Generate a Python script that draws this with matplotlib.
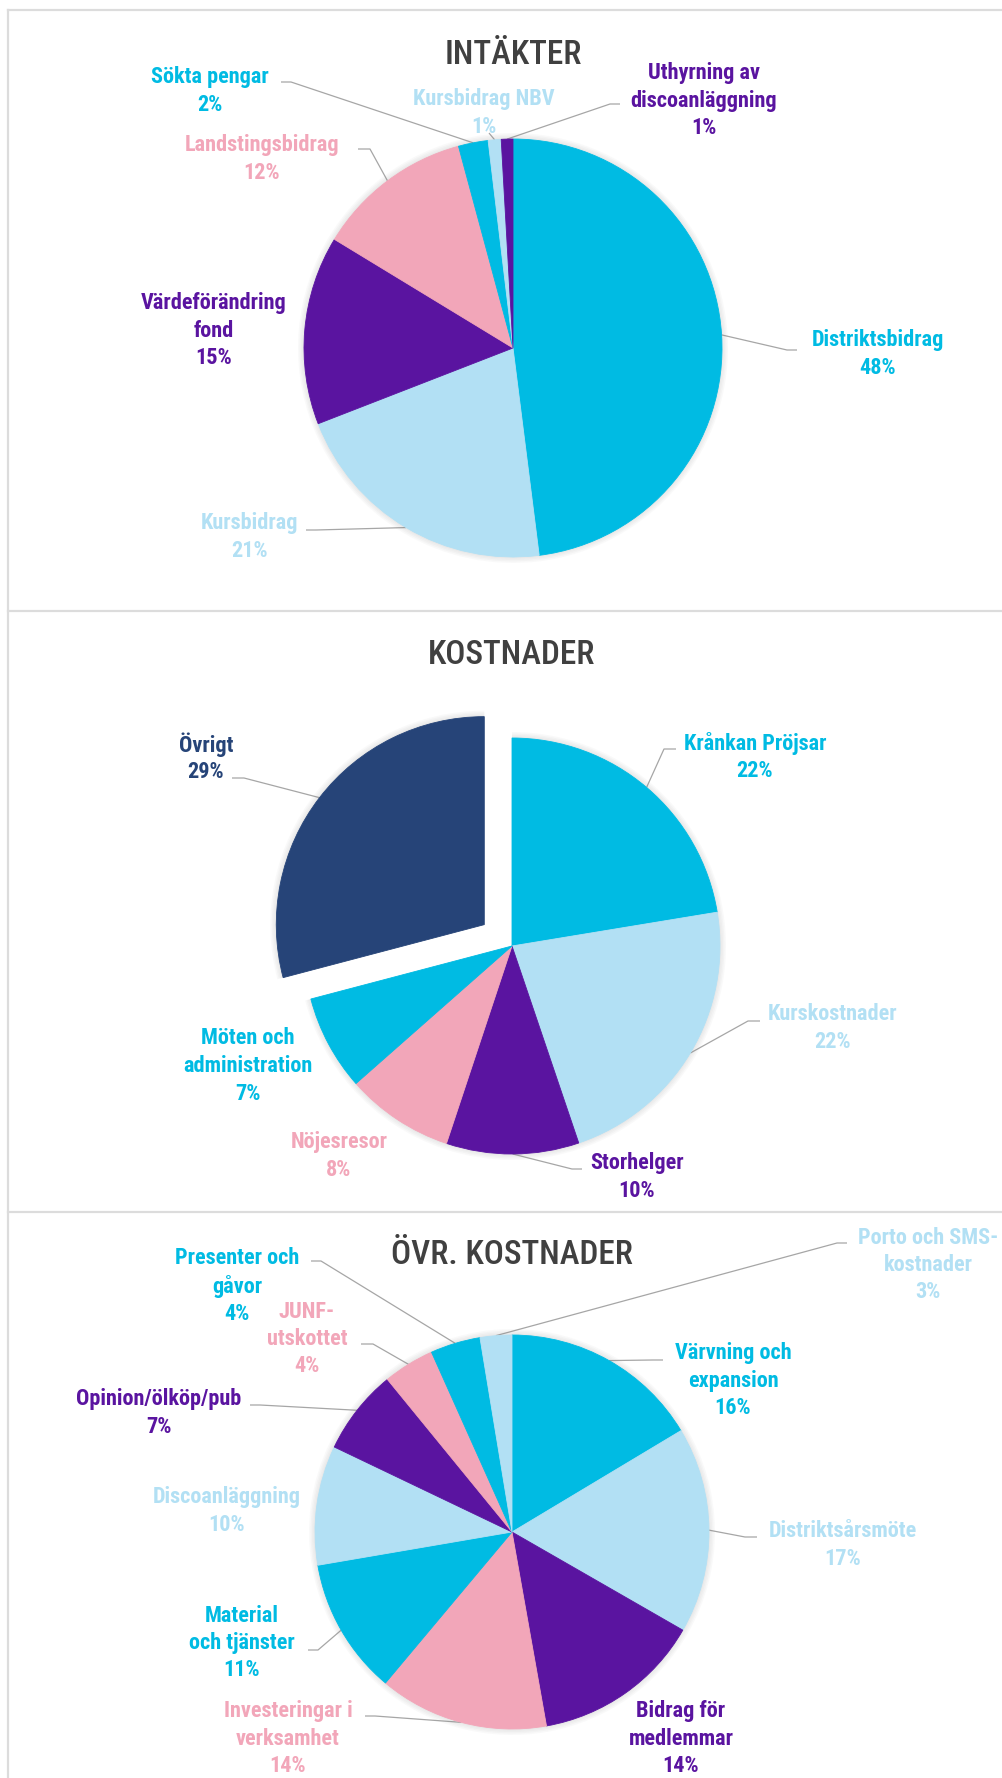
import os
import glob
import numpy as np
import matplotlib
matplotlib.use("Agg")
import matplotlib.pyplot as plt
import matplotlib.patches as mpatches
from matplotlib import font_manager as fm
from matplotlib.font_manager import FontProperties
from matplotlib.lines import Line2D

# ---------------- data ----------------
inc_title = "INTÄKTER"
inc_labels = ["Distriktsbidrag", "Kursbidrag", "Värdeförändring\nfond", "Landstingsbidrag",
              "Sökta pengar", "Kursbidrag NBV", "Uthyrning av\ndiscoanläggning"]
inc_values = [48.0, 21.1, 14.6, 12.1, 2.3, 1.0, 0.9]

cost_title = "KOSTNADER"
cost_labels = ["Krånkan Pröjsar", "Kurskostnader", "Storhelger", "Nöjesresor",
               "Möten och\nadministration", "Övrigt"]
cost_values = [22.4, 22.4, 10.3, 8.4, 7.4, 29.1]

other_title = "ÖVR. KOSTNADER"
other_labels = ["Värvning och\nexpansion", "Distriktsårsmöte", "Bidrag för\nmedlemmar",
                "Investeringar i\nverksamhet", "Material\noch tjänster", "Discoanläggning",
                "Opinion/ölköp/pub", "JUNF-\nutskottet", "Presenter och\ngåvor",
                "Porto och SMS-\nkostnader"]
other_values = [16.4, 16.9, 13.9, 13.9, 11.2, 9.8, 7.0, 4.2, 4.1, 2.6]

# ---------------- styles ----------------
CYAN = "#00BBE3"
LIGHT = "#B2E0F4"
PURPLE = "#5A14A0"
PINK = "#F2A6B9"
NAVY = "#264478"
TITLE_C = "#404040"
LEADER_C = "#A6A6A6"
BORDER_C = "#DCDCDC"

inc_colors = [CYAN, LIGHT, PURPLE, PINK, CYAN, LIGHT, PURPLE]
cost_colors = [CYAN, LIGHT, PURPLE, PINK, CYAN, NAVY]
other_colors = [CYAN, LIGHT, PURPLE, PINK, CYAN, LIGHT, PURPLE, PINK, CYAN, LIGHT]

W, H = 1003, 1778

# ---------------- fonts ----------------
def all_font_files():
    files = set(f.fname for f in fm.fontManager.ttflist)
    for d in ["/usr/share/fonts", "/usr/local/share/fonts", os.path.expanduser("~/.fonts")]:
        for ext in ("ttf", "otf", "TTF", "OTF"):
            files.update(glob.glob(os.path.join(d, "**", "*." + ext), recursive=True))
    return files

FILES = all_font_files()
NORM = {}
for f in FILES:
    k = os.path.basename(f).lower().replace("-", "").replace("_", "").replace(" ", "")
    if "italic" in k or "oblique" in k:
        continue
    NORM[k] = f

def pick(prefs):
    for p in prefs:
        for k in sorted(NORM):
            if k.startswith(p):
                return NORM[k]
    return None

bold_file = pick(["robotocondensedsemibold", "robotocondensedbold", "notosanscondensedsemibold",
                  "notosanscondensedbold", "opensanscondensedbold", "opensanscondsemibold",
                  "opensanscondbold", "liberationsansnarrowbold.", "dejavusanscondensedbold."])
title_file = pick(["robotocondensedmedium", "robotocondensedregular", "notosanscondensedmedium",
                   "notosanscondensed.", "notosanscondensedregular", "opensanscondensedregular",
                   "opensanscondensedmedium", "liberationsansnarrowregular", "liberationsansnarrow.",
                   "dejavusanscondensed."])

if bold_file:
    label_fp = FontProperties(fname=bold_file, size=16)
else:
    label_fp = FontProperties(family="DejaVu Sans", weight="bold", size=12.5)
LPITCH = 27.5  # pixel distance between label lines
if title_file:
    title_fp = FontProperties(fname=title_file, size=24)
else:
    title_fp = FontProperties(family="DejaVu Sans", size=20)

# ---------------- layout (pixels) ----------------
panels = [
    dict(title=inc_title, labels=inc_labels, values=inc_values, colors=inc_colors,
         center=(513, 348), r=209, title_y=55, explode_px=[0] * 7,
         text_pos=[(878, 354), (250, 537), (214, 331), (262, 159), (210, 91), (484, 113), (704, 101)],
         leaders=[(797, 350, -10), (306, 530, 10), None, (358, 149, 12), (281, 82, 10),
                  (489, 133, 0), (620, 104, -10)]),
    dict(title=cost_title, labels=cost_labels, values=cost_values, colors=cost_colors,
         center=(512, 946), r=208, title_y=655, explode_px=[0, 0, 0, 0, 0, 35],
         text_pos=[(755, 757), (833, 1028), (637, 1177), (339, 1156), (248, 1066), (206, 758)],
         leaders=[(676, 749, -12), (760, 1021, -12), (582, 1169, -10), None, None, (232, 778, 12)]),
    dict(title=other_title, labels=other_labels, values=other_values, colors=other_colors,
         center=(512, 1532), r=197, title_y=1255, explode_px=[0] * 10,
         text_pos=[(733, 1381), (843, 1545), (681, 1739), (288, 1739), (242, 1643), (227, 1511),
                   (159, 1413), (307, 1339), (237, 1286), (928, 1265)],
         leaders=[(663, 1360, -10), (757, 1537, -12), None, (365, 1716, 10), (308, 1650, 10), None,
                  (250, 1405, 10), (361, 1344, 12), (311, 1261, 10), (847, 1243, -10)]),
]

fig = plt.figure(figsize=(W / 100, H / 100), dpi=100)
fig.patch.set_facecolor("white")
ax = fig.add_axes([0, 0, 1, 1])

def Y(py):
    return H - py

for p in panels:
    cx, cy = p["center"]
    wedges, _ = ax.pie(p["values"], colors=p["colors"], startangle=90, counterclock=False,
                       center=(cx, Y(cy)), radius=p["r"], explode=p["explode_px"],
                       wedgeprops=dict(linewidth=0.6, edgecolor="none", antialiased=True))
    for w, c in zip(wedges, p["colors"]):
        w.set_edgecolor(c)
        w.set_zorder(2)
        # soft shadow
        for k in (1.5, 3.0, 4.5, 6.0):
            sh = mpatches.Wedge(w.center, w.r + k, w.theta1, w.theta2, facecolor="#808080",
                                edgecolor="none", alpha=0.045, zorder=1)
            ax.add_patch(sh)
    ax.text(cx, Y(p["title_y"]), p["title"], ha="center", va="center",
            fontproperties=title_fp, color=TITLE_C)
    for w, lab, val, col, tp, ld in zip(wedges, p["labels"], p["values"], p["colors"],
                                        p["text_pos"], p["leaders"]):
        lines = lab.split("\n") + [f"{val:.0f}%"]
        n = len(lines)
        for i, line in enumerate(lines):
            ly = tp[1] + (i - (n - 1) / 2) * LPITCH
            ax.text(tp[0], Y(ly), line, ha="center", va="center",
                    fontproperties=label_fp, color=col, zorder=3)
        if ld is not None:
            th = np.deg2rad(0.5 * (w.theta1 + w.theta2))
            wx = w.center[0] + w.r * np.cos(th)
            wy = w.center[1] + w.r * np.sin(th)
            xs = [ld[0], ld[0] + ld[2], wx]
            ys = [Y(ld[1]), Y(ld[1]), wy]
            ax.plot(xs, ys, color=LEADER_C, lw=0.9, solid_capstyle="butt", zorder=0.5)

ax.set_xlim(0, W)
ax.set_ylim(0, H)
ax.set_aspect("auto")
ax.axis("off")

# panel frame lines
for py in (10, 611, 1212):
    fig.add_artist(Line2D([8 / W, 1], [1 - py / H, 1 - py / H], color=BORDER_C, lw=1.6))
fig.add_artist(Line2D([8 / W, 8 / W], [0, 1 - 10 / H], color=BORDER_C, lw=1.6))

fig.savefig("out.png", dpi=100, facecolor="white")
